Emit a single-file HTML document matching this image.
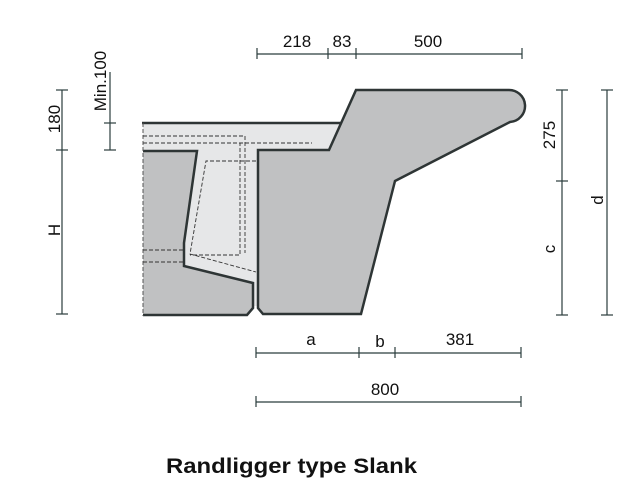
<!DOCTYPE html>
<html><head><meta charset="utf-8"><style>
html,body{margin:0;padding:0;background:#fff;width:621px;height:497px;overflow:hidden}
svg{display:block}
text{font-family:"Liberation Sans",sans-serif;fill:#111}
</style></head><body>
<svg width="621" height="497" viewBox="0 0 621 497">
<polygon points="143,123 342,123 329,150 258,150 258,306 254,306 253,282 184,266 184,243 198,150 143,150" fill="#e6e7e8"/>
<polygon points="143,151 197,151 184,243 184,266 253,283 253,308 247,315 143,315" fill="#c0c1c2"/>
<polyline points="143,151 197,151 184,243 184,266 253,283 253,308 247,315 143,315" fill="none" stroke="#2e3535" stroke-width="2.5" stroke-linejoin="miter"/>
<path d="M356,90 L508,90 A16,16 0 0 1 510,122 L395,181 L361,314 L263,314 L258,308 L258,150 L329,150 L356,90 Z" fill="#c0c1c2" stroke="#2e3535" stroke-width="2.5" stroke-linejoin="miter"/>
<line x1="142" y1="123" x2="342" y2="123" stroke="#2e3535" stroke-width="2.5"/>
<line x1="143" y1="123" x2="143" y2="316" stroke="#555" stroke-width="1" stroke-dasharray="4,2"/>
<g fill="none" stroke="#333" stroke-width="0.9" stroke-dasharray="4,2">
<polyline points="143,136 245,136 245,253"/>
<line x1="143" y1="143" x2="312" y2="143"/>
<polyline points="143,143 240,143 240,255 190,255"/>
<line x1="143" y1="250" x2="183" y2="250"/>
<line x1="143" y1="262" x2="183" y2="262"/>
<polyline points="256,161 206,161 190,254 256,272"/>
</g>
<g stroke="#2b3d3d" stroke-width="1.2" fill="none">
<line x1="257" y1="54" x2="522" y2="54"/>
<line x1="257" y1="48" x2="257" y2="59"/><line x1="328" y1="48" x2="328" y2="59"/><line x1="356" y1="48" x2="356" y2="59"/><line x1="522" y1="48" x2="522" y2="59"/>
<line x1="256" y1="353" x2="521" y2="353"/>
<line x1="256" y1="347" x2="256" y2="358"/><line x1="359" y1="347" x2="359" y2="358"/><line x1="395" y1="347" x2="395" y2="358"/><line x1="521" y1="347" x2="521" y2="358"/>
<line x1="256" y1="402" x2="521" y2="402"/>
<line x1="256" y1="396" x2="256" y2="407"/><line x1="521" y1="396" x2="521" y2="407"/>
<line x1="62" y1="90" x2="62" y2="314"/>
<line x1="56" y1="90" x2="68" y2="90"/><line x1="56" y1="150" x2="68" y2="150"/><line x1="56" y1="314" x2="68" y2="314"/>
<line x1="110" y1="72" x2="110" y2="150"/>
<line x1="104" y1="123" x2="116" y2="123"/><line x1="104" y1="150" x2="116" y2="150"/>
<line x1="562" y1="90" x2="562" y2="315"/>
<line x1="556" y1="90" x2="568" y2="90"/><line x1="556" y1="181" x2="568" y2="181"/><line x1="556" y1="315" x2="568" y2="315"/>
<line x1="607" y1="90" x2="607" y2="315"/>
<line x1="601" y1="90" x2="613" y2="90"/><line x1="601" y1="315" x2="613" y2="315"/>
</g>
<g font-size="17" text-anchor="middle">
<text x="297" y="47">218</text>
<text x="342" y="47">83</text>
<text x="428" y="47">500</text>
<text x="311" y="345">a</text>
<text x="380" y="347">b</text>
<text x="460" y="345">381</text>
<text x="385" y="395">800</text>
<text transform="translate(60,119) rotate(-90)">180</text>
<text transform="translate(60,230) rotate(-90)">H</text>
<text transform="translate(106,81) rotate(-90)">Min.100</text>
<text transform="translate(555,135) rotate(-90)">275</text>
<text transform="translate(555,249) rotate(-90)">c</text>
<text transform="translate(603,200) rotate(-90)">d</text>
</g>
<text x="166" y="473" font-size="21" font-weight="bold" textLength="251" lengthAdjust="spacingAndGlyphs">Randligger type Slank</text>
</svg>
</body></html>
